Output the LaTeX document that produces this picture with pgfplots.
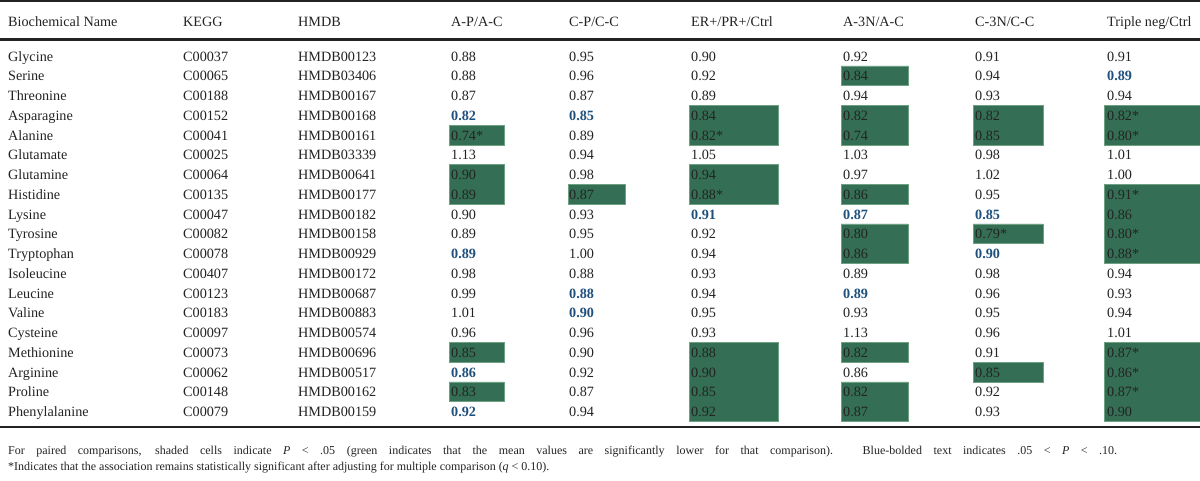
\documentclass[border=0pt]{standalone}
\usepackage{pgfplots}
\pgfplotsset{compat=1.18}
\usepackage{fontspec}
\setmainfont{Liberation Serif}
\definecolor{sig}{RGB}{52,111,85}
\definecolor{sigedge}{RGB}{110,160,130}
\definecolor{bl}{RGB}{31,80,125}
\definecolor{tx}{RGB}{35,35,35}
\newcommand{\B}[1]{\textcolor{bl}{\textbf{#1}}}
% cell: x1, x2, first row, last row
\newcommand{\cell}[4]{%
  \pgfmathsetmacro\yA{61+19.75*#3-14.8}%
  \pgfmathsetmacro\yB{61+19.75*#4+4.95}%
  \edef\temp{\noexpand\addplot[fill=sig,draw=sigedge,line width=0.5pt,mark=none] coordinates {(#1,\yA) (#2,\yA) (#2,\yB) (#1,\yB) (#1,\yA)};}%
  \temp}
\begin{document}
\begin{tikzpicture}
\begin{axis}[at={(0,0)},anchor=north west,scale only axis,width=1200pt,height=480pt,
  xmin=0,xmax=1200,ymin=0,ymax=480,y dir=reverse,hide axis,clip=false]
% A-P/A-C
\cell{449}{504}{4}{4}
\cell{449}{504}{6}{7}
\cell{449}{504}{15}{15}
\cell{449}{504}{17}{17}
% C-P/C-C
\cell{568}{625}{7}{7}
% ER+/PR+/Ctrl
\cell{689}{778}{3}{4}
\cell{689}{778}{6}{7}
\cell{689}{778}{15}{18}
% A-3N/A-C
\cell{841}{908}{1}{1}
\cell{841}{908}{3}{4}
\cell{841}{908}{7}{7}
\cell{841}{908}{9}{10}
\cell{841}{908}{15}{15}
\cell{841}{908}{17}{18}
% C-3N/C-C
\cell{973}{1043}{3}{4}
\cell{973}{1043}{9}{9}
\cell{973}{1043}{16}{16}
% Triple neg/Ctrl
\cell{1104}{1200}{3}{4}
\cell{1104}{1200}{7}{10}
\cell{1104}{1200}{15}{18}
\end{axis}
\begin{scope}[x=1pt,y=-1pt,every node/.style={anchor=base west,inner sep=0pt,text=tx,font=\fontsize{14.2}{16}\selectfont}]
\fill[tx] (0,0) rectangle (1200,2.2);
\node at (8,26) {Biochemical Name};
\node at (183,26) {KEGG};
\node at (298,26) {HMDB};
\node at (451,26) {A-P/A-C};
\node at (569,26) {C-P/C-C};
\node at (691,26) {ER+/PR+/Ctrl};
\node at (843,26) {A-3N/A-C};
\node at (975,26) {C-3N/C-C};
\node at (1107,26) {Triple neg/Ctrl};
\fill[tx] (0,38.3) rectangle (1200,40.7);
\foreach \i/\n/\k/\h/\a/\b/\c/\d/\e/\f in {
0/Glycine/C00037/HMDB00123/0.88/0.95/0.90/0.92/0.91/0.91,
1/Serine/C00065/HMDB03406/0.88/0.96/0.92/0.84/0.94/\B{0.89},
2/Threonine/C00188/HMDB00167/0.87/0.87/0.89/0.94/0.93/0.94,
3/Asparagine/C00152/HMDB00168/\B{0.82}/\B{0.85}/0.84/0.82/0.82/0.82*,
4/Alanine/C00041/HMDB00161/0.74*/0.89/0.82*/0.74/0.85/0.80*,
5/Glutamate/C00025/HMDB03339/1.13/0.94/1.05/1.03/0.98/1.01,
6/Glutamine/C00064/HMDB00641/0.90/0.98/0.94/0.97/1.02/1.00,
7/Histidine/C00135/HMDB00177/0.89/0.87/0.88*/0.86/0.95/0.91*,
8/Lysine/C00047/HMDB00182/0.90/0.93/\B{0.91}/\B{0.87}/\B{0.85}/0.86,
9/Tyrosine/C00082/HMDB00158/0.89/0.95/0.92/0.80/0.79*/0.80*,
10/Tryptophan/C00078/HMDB00929/\B{0.89}/1.00/0.94/0.86/\B{0.90}/0.88*,
11/Isoleucine/C00407/HMDB00172/0.98/0.88/0.93/0.89/0.98/0.94,
12/Leucine/C00123/HMDB00687/0.99/\B{0.88}/0.94/\B{0.89}/0.96/0.93,
13/Valine/C00183/HMDB00883/1.01/\B{0.90}/0.95/0.93/0.95/0.94,
14/Cysteine/C00097/HMDB00574/0.96/0.96/0.93/1.13/0.96/1.01,
15/Methionine/C00073/HMDB00696/0.85/0.90/0.88/0.82/0.91/0.87*,
16/Arginine/C00062/HMDB00517/\B{0.86}/0.92/0.90/0.86/0.85/0.86*,
17/Proline/C00148/HMDB00162/0.83/0.87/0.85/0.82/0.92/0.87*,
18/Phenylalanine/C00079/HMDB00159/\B{0.92}/0.94/0.92/0.87/0.93/0.90} {
\pgfmathsetmacro\yy{61+19.75*\i}
\node at (8,\yy) {\n};
\node at (183,\yy) {\k};
\node at (298,\yy) {\h};
\node at (451,\yy) {\a};
\node at (569,\yy) {\b};
\node at (691,\yy) {\c};
\node at (843,\yy) {\d};
\node at (975,\yy) {\e};
\node at (1107,\yy) {\f};
}
\fill[tx] (0,425.5) rectangle (1200,427.7);
\node at (8,454.5) {\fontsize{12}{14}\selectfont\makebox[1109pt][s]{For paired comparisons, shaded cells indicate \textit{P} < .05 (green indicates that the mean values are significantly lower for that comparison). Blue-bolded text indicates .05 < \textit{P} < .10.}};
\node at (8,470.5) {\fontsize{12}{14}\selectfont *Indicates that the association remains statistically significant after adjusting for multiple comparison (\textit{q} < 0.10).};
\end{scope}
\pgfresetboundingbox
\path (0,0) rectangle (1200pt,-480pt);
\end{tikzpicture}
\end{document}
